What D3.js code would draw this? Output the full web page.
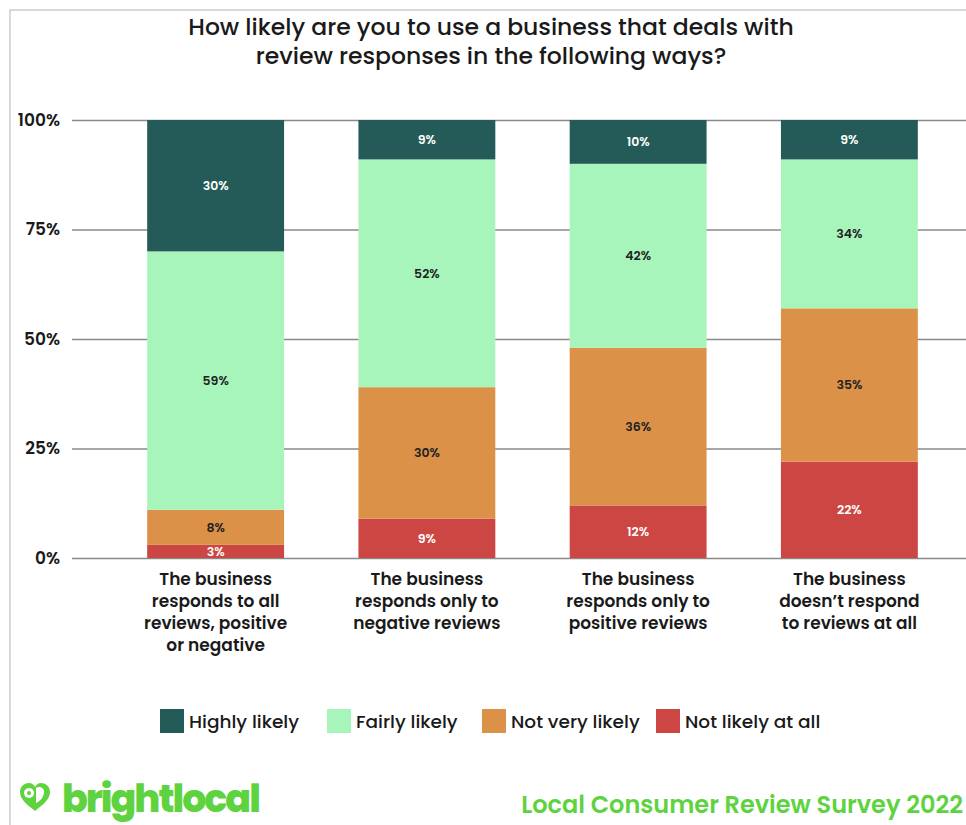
<!DOCTYPE html>
<html>
<head>
<meta charset="utf-8">
<script src="https://cdn.jsdelivr.net/npm/d3@7"></script>
<style>
  html, body { margin: 0; padding: 0; background: #fff; }
  svg { display: block; }
  text { font-family: "Poppins", "Lato", "Open Sans", sans-serif; }
</style>
</head>
<body>
<svg id="chart" width="966" height="825"></svg>
<script>
const titleLines = ["How likely are you to use a business that deals with", "review responses in the following ways?"];
const categories = [
  ["The business", "responds to all", "reviews, positive", "or negative"],
  ["The business", "responds only to", "negative reviews"],
  ["The business", "responds only to", "positive reviews"],
  ["The business", "doesn\u2019t respond", "to reviews at all"]
];
const seriesNames = ["Not likely at all", "Not very likely", "Fairly likely", "Highly likely"];
const notLikelyAtAll = [3, 9, 12, 22];
const notVeryLikely = [8, 30, 36, 35];
const fairlyLikely = [59, 52, 42, 34];
const highlyLikely = [30, 9, 10, 9];
const seriesColors = ["#cc4643", "#db9147", "#a8f5bc", "#245b58"];
const labelColors = ["#ffffff", "#222222", "#222222", "#ffffff"];
const yTicks = [0, 25, 50, 75, 100];
const legendOrder = ["Highly likely", "Fairly likely", "Not very likely", "Not likely at all"];
const footerText = "Local Consumer Review Survey 2022";
const brandText = "brightlocal";

const svg = d3.select("#chart");
const W = 966, H = 825;

// card border
svg.append("rect").attr("x", 10).attr("y", 10).attr("width", 1000).attr("height", 900)
  .attr("fill", "#fff").attr("stroke", "#d8d8d8").attr("stroke-width", 2);

// title (one text element, two lines)
const title = svg.append("text").attr("x", 491).attr("y", 35)
  .attr("text-anchor", "middle").attr("font-size", 23.5).attr("font-weight", 500)
  .attr("fill", "#1a1a1a");
title.selectAll("tspan").data(titleLines).join("tspan")
  .attr("x", 491).attr("dy", (d, i) => i === 0 ? 0 : 29).text(d => d);

const y = d3.scaleLinear().domain([0, 100]).range([558, 120]);
const x = d3.scaleBand().domain(d3.range(categories.length)).range([110, 955])
  .paddingInner(0.352).paddingOuter(0.176);

// gridlines + y labels
const yAxis = d3.axisLeft(y).tickValues(yTicks).tickFormat(d => d + "%").tickSize(-(W - 72)).tickPadding(12);
const gy = svg.append("g").attr("transform", "translate(72,0)").call(yAxis);
gy.select(".domain").remove();
gy.selectAll(".tick line").attr("stroke", "#8a8a8a").attr("stroke-width", 1.6);
gy.selectAll(".tick text").attr("font-size", 17).attr("font-weight", 600).attr("fill", "#1a1a1a")
  .attr("font-family", "Inter, Lato, sans-serif").attr("dy", "0.32em");

// stacked data
const rows = categories.map((c, i) => ({
  i,
  "Not likely at all": notLikelyAtAll[i],
  "Not very likely": notVeryLikely[i],
  "Fairly likely": fairlyLikely[i],
  "Highly likely": highlyLikely[i]
}));
const stack = d3.stack().keys(seriesNames)(rows);

const layers = svg.append("g").selectAll("g").data(stack).join("g")
  .attr("fill", (d, k) => seriesColors[k]);
layers.selectAll("rect").data(d => d).join("rect")
  .attr("x", d => x(d.data.i)).attr("width", x.bandwidth())
  .attr("y", d => y(d[1])).attr("height", d => y(d[0]) - y(d[1]));

const lab = svg.append("g").selectAll("g").data(stack).join("g")
  .attr("fill", (d, k) => labelColors[k]);
lab.selectAll("text").data(d => d.map(v => ({v, key: d.key}))).join("text")
  .attr("x", d => x(d.v.data.i) + x.bandwidth() / 2)
  .attr("y", d => (y(d.v[0]) + y(d.v[1])) / 2)
  .attr("dy", "0.36em").attr("text-anchor", "middle")
  .attr("font-size", 12.5).attr("font-weight", 600)
  .attr("font-family", "Inter, Lato, sans-serif")
  .text(d => (d.v[1] - d.v[0]) + "%");

// x labels
const xl = svg.append("g").selectAll("text").data(categories).join("text")
  .attr("x", (d, i) => x(i) + x.bandwidth() / 2)
  .attr("y", 585).attr("text-anchor", "middle")
  .attr("font-size", 17).attr("font-weight", 600).attr("fill", "#1a1a1a");
xl.selectAll("tspan").data(d => d).join("tspan")
  .attr("x", function() { return this.parentNode.getAttribute("x"); })
  .attr("dy", (d, j) => j === 0 ? 0 : 22).text(d => d);

// legend
const legendX = [160, 327, 482, 656];
const lg = svg.append("g").selectAll("g").data(legendOrder).join("g")
  .attr("transform", (d, i) => `translate(${legendX[i]},709)`);
lg.append("rect").attr("width", 24).attr("height", 24)
  .attr("fill", d => seriesColors[seriesNames.indexOf(d)]);
lg.append("text").attr("x", 29).attr("y", 19).attr("font-size", 18.5).attr("font-weight", 500)
  .attr("fill", "#1a1a1a").text(d => d);

// footer
const green = "#5ed33f";
svg.append("text").attr("x", 963).attr("y", 813).attr("text-anchor", "end")
  .attr("font-size", 24).attr("font-weight", 600).attr("fill", green).text(footerText);
svg.append("text").attr("x", 62).attr("y", 812)
  .attr("font-size", 38).attr("font-weight", 800).attr("letter-spacing", -2)
  .attr("font-family", "Lato, 'Open Sans', sans-serif").attr("fill", green).text(brandText);
// heart logo
const hg = svg.append("g").attr("transform", "translate(35,798)");
hg.append("path").attr("fill", green)
  .attr("d", "M0,13 C-6,8 -15,2 -15,-6 C-15,-12 -10,-15 -6,-15 C-3,-15 -1,-13 0,-11 C1,-13 3,-15 6,-15 C10,-15 15,-12 15,-6 C15,2 6,8 0,13 Z");
hg.append("circle").attr("cx", -6).attr("cy", -5).attr("r", 5).attr("fill", "#fff");
hg.append("circle").attr("cx", -6).attr("cy", -5).attr("r", 2).attr("fill", green);
hg.append("path").attr("fill", "#fff").attr("d", "M1,-10 C4,-12 9,-11 9,-6 C9,-1 5,3 1,5 Z");
</script>
</body>
</html>
